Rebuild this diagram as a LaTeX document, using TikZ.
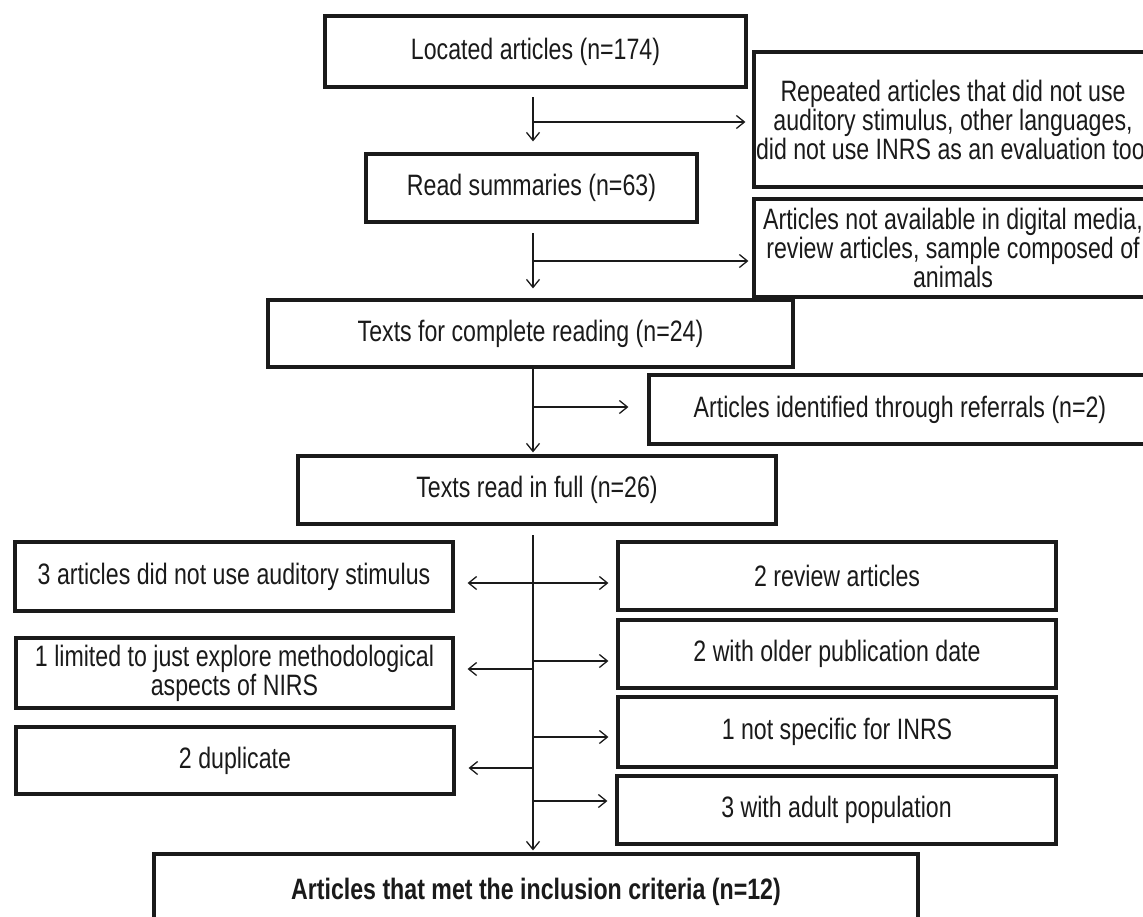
\documentclass[tikz,border=0pt]{standalone}
\usepackage{fontspec}
\setmainfont{Liberation Sans}[FakeStretch=0.785]
\usetikzlibrary{arrows.meta}
\definecolor{ink}{HTML}{1A1A1A}
\begin{document}
\begin{tikzpicture}[x=1pt,y=-1pt,
  box/.style={draw=ink,line width=3.2pt,inner sep=0pt,align=center,font=\fontsize{29.5}{29}\selectfont,text=ink},
  arr/.style={draw=ink,line width=1.3pt,-{Straight Barb[length=8pt,width=13pt,line width=1.3pt]}}]
\useasboundingbox (0,0) rectangle (1143,916);
\clip (0,0) rectangle (1143,916);
\fill[white] (0,0) rectangle (1143,916);
% main column
\node[box,minimum width=421pt,minimum height=71pt] (b1) at (535.5,51.5) {Located articles (n=174)};
\node[box,minimum width=331pt,minimum height=68pt] (b2) at (531.5,188) {Read summaries (n=63)};
\node[box,minimum width=525pt,minimum height=67pt] (b3) at (530.5,333.5) {Texts for complete reading (n=24)};
\node[box,minimum width=478pt,minimum height=68pt] (b4) at (537,490) {Texts read in full (n=26)};
\node[box,minimum width=764pt,minimum height=76pt] (f) at (536,892) {\textbf{Articles that met the inclusion criteria (n=12)}};
% right side boxes (top)
\node[box,minimum width=398pt,minimum height=135pt] (r1) at (953,119.5) {Repeated articles that did not use\\auditory stimulus, other languages,\\did not use INRS as an evaluation tool};
\node[box,minimum width=398pt,minimum height=98pt] (r2) at (953,248) {Articles not available in digital media,\\review articles, sample composed of\\animals};
\node[box,minimum width=502pt,minimum height=69pt] (r3) at (900,409.5) {Articles identified through referrals (n=2)};
% left exclusion boxes
\node[box,minimum width=438pt,minimum height=69pt] (l1) at (234,576.5) {3 articles did not use auditory stimulus};
\node[box,minimum width=437pt,minimum height=70pt] (l2) at (234.5,673) {1 limited to just explore methodological\\aspects of NIRS};
\node[box,minimum width=438pt,minimum height=67pt] (l3) at (235,760.5) {2 duplicate};
% right exclusion boxes
\node[box,minimum width=438pt,minimum height=68pt] (rr1) at (837,576) {2 review articles};
\node[box,minimum width=438pt,minimum height=68pt] (rr2) at (837,654) {2 with older publication date};
\node[box,minimum width=438pt,minimum height=70pt] (rr3) at (837,732) {1 not specific for INRS};
\node[box,minimum width=439pt,minimum height=68pt] (rr4) at (836.5,810) {3 with adult population};
% trunk 1
\coordinate (t1) at (533,97);
\coordinate (j1) at (533,122);
\draw[arr,shorten >=11pt] (t1) -- (t1 |- b2.north);
\draw[arr,shorten >=7pt] (j1) -- (j1 -| r1.west);
% trunk 2
\coordinate (t2) at (533,233);
\coordinate (j2) at (533,261);
\draw[arr,shorten >=10pt] (t2) -- (t2 |- b3.north);
\draw[arr,shorten >=4pt] (j2) -- (j2 -| r2.west);
% trunk 3
\coordinate (t3) at (533,367);
\coordinate (j3) at (533,407);
\draw[arr,shorten >=2pt] (t3) -- (t3 |- b4.north);
\draw[arr,shorten >=19pt] (j3) -- (j3 -| r3.west);
% trunk 4
\coordinate (t4) at (533,535);
\draw[arr,shorten >=2pt] (t4) -- (t4 |- f.north);
\coordinate (k1) at (533,583);
\coordinate (k2) at (533,661);
\coordinate (k3) at (533,669);
\coordinate (k4) at (533,737);
\coordinate (k5) at (533,768);
\coordinate (k6) at (533,801);
\draw[arr,shorten >=13pt] (k1) -- (k1 -| l1.east);
\draw[arr,shorten >=8pt] (k1) -- (k1 -| rr1.west);
\draw[arr,shorten >=8pt] (k2) -- (k2 -| rr2.west);
\draw[arr,shorten >=13pt] (k3) -- (k3 -| l2.east);
\draw[arr,shorten >=8pt] (k4) -- (k4 -| rr3.west);
\draw[arr,shorten >=13pt] (k5) -- (k5 -| l3.east);
\draw[arr,shorten >=8pt] (k6) -- (k6 -| rr4.west);
\end{tikzpicture}
\end{document}
